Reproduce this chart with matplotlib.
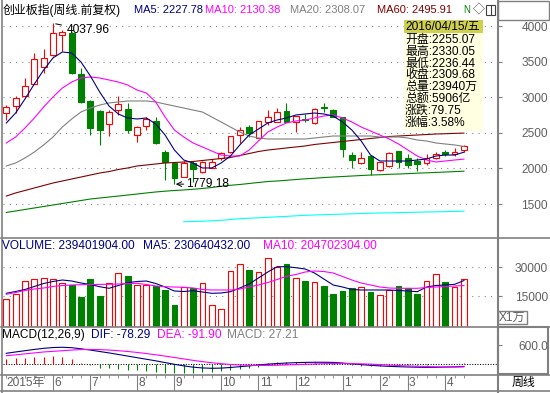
import matplotlib
matplotlib.use("Agg")
import matplotlib.pyplot as plt
from matplotlib.patches import Rectangle

plt.rcParams["font.family"] = ["Liberation Sans", "Noto Sans CJK SC", "DejaVu Sans"]

W, H = 550, 393

# weekly bars 2015-04-27 .. 2016-04-15 (ChiNext, forward adjusted)
opens = [2782, 2876, 3017, 3181, 3420, 3593, 3874, 3897, 3322, 2947,
         2806, 2624, 2820, 2830, 2469, 2596, 2666, 2235, 2072, 1883,
         2072, 1954, 2010, 2142, 2226, 2469, 2586, 2423, 2656, 2656,
         2806, 2656, 2694, 2633, 2867, 2820, 2718, 2188, 2072, 2178,
         1978, 2038, 2244, 2150, 2100, 2080, 2150, 2230, 2200, 2255.07]
highs = [2890, 3017, 3265, 3625, 3673, 4037.96, 3944, 3910, 3406, 2960,
         2815, 2820, 3017, 2919, 2600, 2722, 2718, 2260, 2080, 2104,
         2104, 2110, 2132, 2235, 2460, 2580, 2610, 2670, 2820, 2844,
         2923, 2740, 2764, 2844, 2914, 2830, 2720, 2235, 2235, 2180,
         2090, 2235, 2250, 2200, 2150, 2200, 2230, 2260, 2280, 2330.05]
lows = [2680, 2774, 2999, 3181, 3344, 3580, 3653, 3320, 2920, 2469,
        2329, 2455, 2750, 2497, 2375, 2539, 2340, 1837, 1779.18, 1879,
        1813, 1940, 2000, 2118, 2220, 2357, 2437, 2420, 2610, 2650,
        2650, 2516, 2656, 2630, 2796, 2722, 2164, 2001, 2068, 1907,
        1963, 2024, 2006, 2000, 1960, 2050, 2130, 2170, 2170, 2236.44]
closes = [2858, 2985, 3157, 3532, 3546, 3897, 3912, 3336, 2937, 2567,
          2539, 2788, 2900, 2539, 2577, 2690, 2353, 2094, 1861, 2072,
          1987, 2094, 2094, 2212, 2455, 2539, 2493, 2666, 2726, 2796,
          2656, 2736, 2680, 2830, 2844, 2726, 2268, 2118, 2150, 1992,
          2086, 2221, 2094, 2050, 2060, 2150, 2200, 2200, 2229.93, 2309.68]

ma5 = [2638, 2778, 2975, 3185, 3382, 3551, 3635, 3621, 3494, 3298,
       3073, 2876, 2764, 2708, 2694, 2708, 2624, 2469, 2258, 2118,
       2076, 2006, 2006, 2076, 2174, 2329, 2469, 2553, 2638, 2680,
       2708, 2750, 2764, 2778, 2764, 2736, 2652, 2539, 2385, 2188,
       2104, 2104, 2104, 2104, 2118, 2132, 2174, 2188, 2188, 2227.78]
ma10 = [2357, 2441, 2567, 2708, 2862, 3003, 3129, 3213, 3270, 3284,
        3270, 3242, 3213, 3171, 3101, 3059, 2933, 2722, 2539, 2441,
        2357, 2301, 2244, 2188, 2174, 2174, 2258, 2385, 2511, 2581,
        2638, 2666, 2680, 2708, 2736, 2750, 2708, 2652, 2581, 2525,
        2469, 2413, 2343, 2258, 2174, 2118, 2090, 2104, 2118, 2130.38]
ma20 = [2034, 2076, 2146, 2230, 2329, 2441, 2581, 2694, 2792, 2848,
        2890, 2919, 2933, 2947, 2947, 2947, 2933, 2904, 2876, 2848,
        2820, 2792, 2722, 2652, 2581, 2511, 2455, 2427, 2413, 2413,
        2413, 2413, 2413, 2427, 2441, 2455, 2455, 2455, 2455, 2455,
        2441, 2441, 2441, 2427, 2399, 2385, 2357, 2343, 2329, 2308.07]
ma60 = [1612, 1655, 1690, 1725, 1760, 1795, 1823, 1851, 1879, 1907,
        1935, 1956, 1985, 2006, 2034, 2048, 2062, 2076, 2083, 2090,
        2097, 2111, 2125, 2139, 2153, 2181, 2209, 2237, 2258, 2272,
        2287, 2301, 2315, 2336, 2350, 2364, 2378, 2392, 2406, 2420,
        2434, 2448, 2455, 2462, 2469, 2476, 2483, 2487, 2492, 2495.91]
ma120 = [1381, 1402, 1423, 1444, 1465, 1486, 1507, 1528, 1549, 1570,
         1584, 1598, 1612, 1626, 1640, 1655, 1669, 1680, 1690, 1697,
         1707, 1718, 1732, 1749, 1763, 1774, 1788, 1802, 1816, 1823,
         1833, 1844, 1854, 1862, 1871, 1879, 1886, 1893, 1900, 1907,
         1911, 1917, 1921, 1927, 1933, 1938, 1944, 1949, 1955, 1961]
ma250 = [None] * 19 + [
         1251, 1254, 1258, 1264, 1271, 1282, 1293, 1300, 1306, 1313,
         1320, 1326, 1334, 1341, 1346, 1350, 1354, 1358, 1362, 1366,
         1371, 1374, 1376, 1379, 1382, 1385, 1388, 1390, 1393, 1396, 1399]

# volume in units of 1万
volumes = [13430, 16050, 23000, 23880, 24400, 24040, 21640, 20750, 14630, 24040,
           15000, 21640, 26860, 25450, 20900, 20900, 20230, 18290, 10300, 19550,
           19340, 21640, 10140, 8050, 28070, 31570, 28750, 27390, 34700, 30160,
           31730, 24250, 22840, 22160, 20230, 16050, 17610, 19020, 19860, 17090,
           15370, 18140, 20230, 19340, 16050, 22840, 26340, 22160, 19860, 23940]
vol_ma5 = [16410, 17350, 18400, 19970, 21530, 22580, 23360, 22840, 21790, 21010,
           19860, 19020, 20490, 21950, 22580, 22840, 21530, 19700, 17610, 17350,
           17770, 17090, 16410, 16570, 17250, 19180, 21270, 24410, 27540, 30310,
           30310, 29790, 29110, 27020, 23880, 20750, 19700, 18400, 18140, 18140,
           18140, 18140, 17870, 17610, 17250, 19700, 20490, 20750, 21110, 23064]
vol_ma10 = [15890, 16830, 17870, 18660, 19180, 19970, 20490, 20750, 20910, 21010,
            21060, 21110, 21270, 21530, 21640, 21010, 20230, 19860, 19700, 19550,
            19180, 18400, 18140, 18140, 18140, 18660, 19700, 20750, 22060, 23620,
            25240, 26240, 27540, 28070, 27800, 27020, 25190, 23360, 21790, 20750,
            19700, 19180, 19020, 19020, 19020, 19440, 19700, 19970, 20230, 20470]

dif = [338, 380, 420, 460, 495, 520, 528, 515, 480, 440,
       395, 350, 300, 250, 200, 150, 100, 45, -10, -60,
       -100, -125, -136, -130, -110, -85, -60, -30, -5, 15,
       30, 42, 50, 55, 55, 50, 30, 5, -20, -42,
       -60, -75, -86, -95, -102, -106, -104, -98, -90, -78.29]
dea = [262, 290, 320, 350, 380, 400, 420, 440, 455, 458,
       455, 440, 420, 395, 365, 330, 290, 250, 205, 160,
       115, 75, 40, 10, -15, -30, -42, -48, -45, -40,
       -30, -20, -10, 0, 10, 15, 15, 10, 5, -5,
       -20, -35, -50, -62, -72, -80, -88, -95, -97, -91.90]
macd = [147, 179, 179, 211, 232, 263, 211, 147, 42, -32,
        -137, -137, -169, -190, -190, -211, -242, -274, -295, -295,
        -295, -263, -242, -211, -190, -158, -116, -84, 42, 60,
        70, 70, 60, 50, 40, 30, -10, -40, -55, -60,
        -60, -55, -50, -45, -40, -30, -10, 5, 15, 27.21]

month_idx = [5, 9, 14, 18, 23, 27, 31, 36, 40, 43, 47]
month_labels = ["6", "7", "8", "9", "10", "11", "12", "1", "2", "3", "4"]
price_ticks = [1500, 2000, 2500, 3000, 3500, 4000]
vol_ticks = [15000, 30000]
macd_ticks = [600]

vol_header = ["VOLUME: 239401904.00", "MA5: 230640432.00", "MA10: 204702304.00"]
tip_date = "2016/04/15/五"
tip_lines = ["开盘:2255.07", "最高:2330.05", "最低:2236.44", "收盘:2309.68",
             "总量:23940万", "总额:5906亿", "涨跌:79.75", "涨幅:3.58%"]

RED = "#ff0000"
GREEN = "#008000"
NAVY = "#000080"
MAG = "#ff00ff"
GRAY = "#808080"
DRED = "#800000"
CYAN = "#00ffff"
FRAME = "#808080"
FS = 8.6


def px_box(x0, y0, x1, y1):
    return [x0 / W, 1 - y1 / H, (x1 - x0) / W, (y1 - y0) / H]


def prep(ax, ylim):
    ax.set_xlim(-0.353, 52.54)
    ax.set_ylim(*ylim)
    for s in ax.spines.values():
        s.set_visible(False)
    ax.set_xticks([])
    ax.patch.set_alpha(0)


def right_ticks(ax, ticks, labels):
    ax.yaxis.tick_right()
    ax.set_yticks(ticks)
    ax.set_yticklabels(labels)
    ax.tick_params(axis="y", length=3.6, width=0.8, color=GRAY,
                   labelcolor="#606060", labelsize=FS, pad=33)
    for lb in ax.get_yticklabels():
        lb.set_ha("right")


fig = plt.figure(figsize=(W / 100, H / 100), dpi=100)
fig.patch.set_facecolor("white")

n = len(closes)
xs = list(range(n))
up = [c >= o for o, c in zip(opens, closes)]
bw = 0.62

# price panel
ax = fig.add_axes(px_box(3, 20, 497, 238))
prep(ax, (1022.5, 4084.3))
right_ticks(ax, price_ticks, [str(t) for t in price_ticks])
for t in price_ticks:
    ax.axhline(t, color=GRAY, lw=0.75, ls=(0, (1, 5)), zorder=0)

for i in xs:
    o, h, l, c = opens[i], highs[i], lows[i], closes[i]
    lo, hi = min(o, c), max(o, c)
    col = RED if up[i] else GREEN
    ax.vlines(i, hi, h, color=col, lw=0.8, zorder=2)
    ax.vlines(i, l, lo, color=col, lw=0.8, zorder=2)
    ax.bar(i, max(hi - lo, 6), bottom=lo, width=bw,
           facecolor="white" if up[i] else GREEN, edgecolor=col,
           lw=0.8, zorder=3)

ax.plot(xs, ma250, color=CYAN, lw=0.8, zorder=4)
ax.plot(xs, ma120, color=GREEN, lw=0.8, zorder=4)
ax.plot(xs, ma60, color=DRED, lw=0.8, zorder=4)
ax.plot(xs, ma20, color=GRAY, lw=0.8, zorder=4)
ax.plot(xs, ma10, color=MAG, lw=0.8, zorder=4)
ax.plot(xs, ma5, color=NAVY, lw=0.8, zorder=5)

i_hi = highs.index(max(highs))
i_lo = lows.index(min(lows))
ax.annotate(f"{max(highs):.2f}", xy=(i_hi, max(highs)), xytext=(14, -7),
            textcoords="offset pixels", fontsize=FS, va="center", ha="left",
            arrowprops=dict(arrowstyle="-", color="black", lw=0.7), zorder=6)
ax.annotate(f"{min(lows):.2f}", xy=(i_lo, min(lows)), xytext=(12, 0),
            textcoords="offset pixels", fontsize=FS, va="center", ha="left",
            arrowprops=dict(arrowstyle="->", color="black", lw=0.7,
                            shrinkA=0, shrinkB=1), zorder=6)

# volume panel
axv = fig.add_axes(px_box(3, 238, 497, 327))
prep(axv, (-1202, 45314))
right_ticks(axv, vol_ticks, [str(t) for t in vol_ticks])
for t in vol_ticks:
    axv.axhline(t, color=GRAY, lw=0.75, ls=(0, (1, 5)), zorder=0)
vbot = -1202
for i in xs:
    col = RED if up[i] else GREEN
    axv.bar(i, volumes[i] - vbot, bottom=vbot, width=bw,
            facecolor="white" if up[i] else GREEN, edgecolor=col,
            lw=0.8, zorder=2)
axv.plot(xs, vol_ma5, color=NAVY, lw=0.8, zorder=3)
axv.plot(xs, vol_ma10, color=MAG, lw=0.8, zorder=3)

# macd panel
axm = fig.add_axes(px_box(3, 327, 497, 375))
prep(axm, (-348, 1169))
right_ticks(axm, macd_ticks, ["600.0"])
axm.axhline(0, color="black", lw=0.75, ls=(0, (1, 1.5)), zorder=1)
axm.vlines(xs, 0, macd, colors=[RED if m > 0 else GREEN for m in macd],
           lw=0.8, zorder=2)
axm.plot(xs, dif, color=NAVY, lw=0.8, zorder=3)
axm.plot(xs, dea, color=MAG, lw=0.8, zorder=3)

# date strip
axd = fig.add_axes(px_box(3, 375, 497, 391))
prep(axd, (0, 1))
axd.set_yticks([])
axd.vlines(month_idx, 0.0, 1.0, color=GRAY, lw=0.8)
axd.vlines(xs, 0.8, 1.0, color=GRAY, lw=0.6)
for i, lab in zip(month_idx, month_labels):
    axd.text(i + 0.12, 0.47, lab, fontsize=FS, color="#606060",
             ha="left", va="center")
axd.text(0.05, 0.47, "2015年", fontsize=FS, color="#606060",
         ha="left", va="center")

# overlay: frames, headers, tooltip
ov = fig.add_axes([0, 0, 1, 1])
ov.set_xlim(0, W)
ov.set_ylim(H, 0)
ov.axis("off")
ov.patch.set_alpha(0)

for y in (238, 327, 375, 391):
    ov.plot([1, 550], [y, y], color=FRAME, lw=1.2)
ov.plot([2, 2], [0, 393], color=FRAME, lw=1.2)
ov.plot([497.5, 497.5], [0, 393], color=FRAME, lw=1.5)
ov.add_patch(Rectangle((498, 1), 51, 19, facecolor="white",
                       edgecolor=FRAME, lw=1))
ov.add_patch(Rectangle((498, 327), 50, 47, facecolor="none",
                       edgecolor=FRAME, lw=1.5))
ov.add_patch(Rectangle((498, 311), 29, 13, facecolor="white",
                       edgecolor=FRAME, lw=1))
ov.text(512, 318, "X1万", fontsize=FS, color="#606060", ha="center", va="center")
ov.text(523, 383, "周线", fontsize=FS, color="black", ha="center", va="center")

hy = 10
FT = 8.0
ov.text(3, hy, "创业板指(周线.前复权)", fontsize=FS, color="black", va="center")
ov.text(134, hy, f"MA5: {ma5[-1]:.2f}", fontsize=FT, color=NAVY, va="center")
ov.text(205, hy, f"MA10: {ma10[-1]:.2f}", fontsize=FT, color=MAG, va="center")
ov.text(290, hy, f"MA20: {ma20[-1]:.2f}", fontsize=FT, color=GRAY, va="center")
ov.text(377, hy, f"MA60: {ma60[-1]:.2f}", fontsize=FT, color=DRED, va="center")
ov.text(463, hy, "N", fontsize=FT - 1, color=GREEN, va="center")
ov.text(473, hy, "◇", fontsize=FS, color="#404040", va="center")
ov.add_patch(Rectangle((486, 5), 9, 10, facecolor="white", edgecolor="#404040", lw=0.8))
ov.plot([490.5, 490.5], [5, 15], color="#404040", lw=0.8)

vy = 246
ov.text(2, vy, vol_header[0], fontsize=FS, color=NAVY, va="center")
ov.text(143, vy, vol_header[1], fontsize=FS, color=NAVY, va="center")
ov.text(263, vy, vol_header[2], fontsize=FS, color=MAG, va="center")

my = 335
ov.text(2, my, "MACD(12,26,9)", fontsize=FS, color="black", va="center")
ov.text(91, my, f"DIF: {dif[-1]:.2f}", fontsize=FS, color=NAVY, va="center")
ov.text(157, my, f"DEA: {dea[-1]:.2f}", fontsize=FS, color=MAG, va="center")
ov.text(227, my, f"MACD: {macd[-1]:.2f}", fontsize=FS, color=GRAY, va="center")

ov.add_patch(Rectangle((404, 20), 79, 111, facecolor="#ffffe1", edgecolor="none", zorder=5))
ov.add_patch(Rectangle((404, 20), 79, 13, facecolor="#d0d050", edgecolor="none", zorder=5))
ov.text(405, 26.5, tip_date, fontsize=FS, color="black", va="center", zorder=6)
for k, s in enumerate(tip_lines):
    ov.text(405, 40 + k * 11.8, s, fontsize=FS, color="black", va="center", zorder=6)

fig.savefig("out.png", dpi=100)
